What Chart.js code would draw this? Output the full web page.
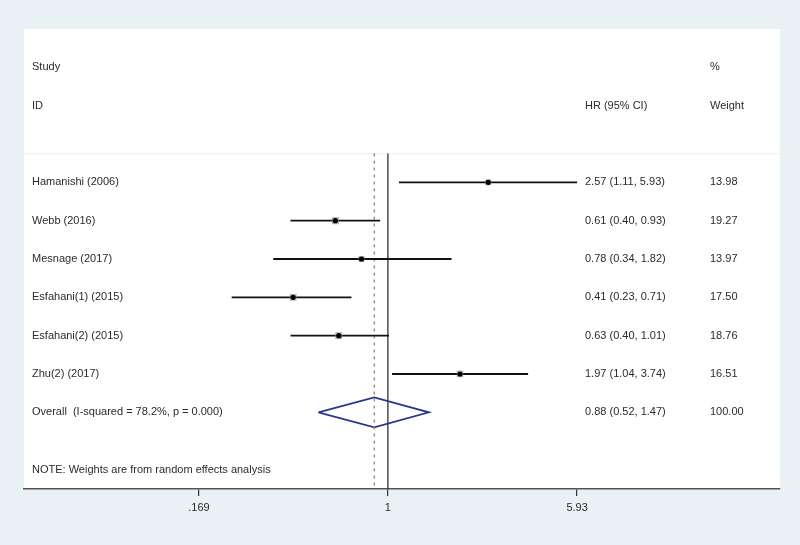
<!DOCTYPE html>
<html>
<head>
<meta charset="utf-8">
<script src="https://cdn.jsdelivr.net/npm/chart.js@4"></script>
<style>
  body { margin: 0; background: #eaf1f4; }
  canvas { display: block; }
</style>
</head>
<body>
<canvas id="myChart" width="800" height="545"></canvas>
<script>
const studies = [
  'Hamanishi (2006)',
  'Webb (2016)',
  'Mesnage (2017)',
  'Esfahani(1) (2015)',
  'Esfahani(2) (2015)',
  'Zhu(2) (2017)',
];
const hr = [2.57, 0.61, 0.78, 0.41, 0.63, 1.97];
const ciLow = [1.11, 0.40, 0.34, 0.23, 0.40, 1.04];
const ciHigh = [5.93, 0.93, 1.82, 0.71, 1.01, 3.74];
const weights = [13.98, 19.27, 13.97, 17.50, 18.76, 16.51];

const overallLabel = 'Overall  (I-squared = 78.2%, p = 0.000)';
const overallHr = 0.88;
const overallLow = 0.52;
const overallHigh = 1.47;
const overallWeight = 100.00;

const tickValues = [0.169, 1, 5.93];
const tickLabels = ['.169', '1', '5.93'];

const fmt = v => v.toFixed(2);
const overallRow = studies.length;
const font = '"Liberation Sans", Arial, sans-serif';

// one line per confidence interval
const ciSets = studies.map((s, i) => ({
  type: 'line',
  data: [{x: ciLow[i], y: i}, {x: ciHigh[i], y: i}],
  borderColor: '#111',
  borderWidth: 1.8,
  pointRadius: 0,
}));

const textPlugin = {
  id: 'forestText',
  beforeDraw(chart) {
    const a = chart.chartArea;
    const ctx = chart.ctx;
    ctx.save();
    ctx.fillStyle = '#ffffff';
    ctx.fillRect(a.left, a.top, a.right - a.left, a.bottom - a.top);
    ctx.strokeStyle = '#f0f0f0';
    ctx.lineWidth = 1;
    const yy = chart.scales.y.getPixelForValue(-0.75);
    ctx.beginPath();
    ctx.moveTo(a.left, yy);
    ctx.lineTo(a.right, yy);
    ctx.stroke();
    ctx.restore();
  },
  afterDatasetsDraw(chart) {
    const ctx = chart.ctx;
    const y = chart.scales.y;
    const labelX = 32, hrX = 585, wX = 710;
    ctx.save();
    ctx.font = '11px ' + font;
    ctx.fillStyle = '#2b2b2b';
    ctx.textBaseline = 'middle';
    const put = (t, x, row) => ctx.fillText(t, x, y.getPixelForValue(row));
    put('Study', labelX, -3);
    put('%', wX, -3);
    put('ID', labelX, -2);
    put('HR (95% CI)', hrX, -2);
    put('Weight', wX, -2);
    studies.forEach((s, i) => {
      put(s, labelX, i);
      put(fmt(hr[i]) + ' (' + fmt(ciLow[i]) + ', ' + fmt(ciHigh[i]) + ')', hrX, i);
      put(fmt(weights[i]), wX, i);
    });
    put(overallLabel, labelX, overallRow);
    put(fmt(overallHr) + ' (' + fmt(overallLow) + ', ' + fmt(overallHigh) + ')', hrX, overallRow);
    put(fmt(overallWeight), wX, overallRow);
    put('NOTE: Weights are from random effects analysis', labelX, 7.5);
    ctx.restore();
  }
};

// datasets listed first are drawn on top
const config = {
  type: 'scatter',
  data: {
    datasets: [
      {
        data: studies.map((s, i) => ({x: hr[i], y: i})),
        pointRadius: 2.6,
        backgroundColor: '#000',
        borderWidth: 0,
      },
      {
        // weight boxes
        data: studies.map((s, i) => ({x: hr[i], y: i})),
        pointStyle: 'rect',
        pointRadius: weights.map(w => 1.15 * Math.sqrt(w)),
        backgroundColor: 'rgba(150,150,150,0.7)',
        borderWidth: 0,
      },
      ...ciSets,
      {
        type: 'line',
        data: [{x: overallHr, y: -0.75}, {x: overallHr, y: 8}],
        borderColor: '#b87474',
        borderWidth: 1.3,
        borderDash: [3, 4],
        pointRadius: 0,
      },
      {
        type: 'line',
        data: [
          {x: overallLow, y: overallRow},
          {x: overallHr, y: overallRow - 0.39},
          {x: overallHigh, y: overallRow},
          {x: overallHr, y: overallRow + 0.39},
          {x: overallLow, y: overallRow},
        ],
        borderColor: '#27378a',
        borderWidth: 1.8,
        pointRadius: 0,
        tension: 0,
      },
      {
        type: 'line',
        data: [{x: 1, y: -0.75}, {x: 1, y: 8}],
        borderColor: '#222',
        borderWidth: 1.2,
        pointRadius: 0,
      },
    ]
  },
  options: {
    responsive: false,
    animation: false,
    layout: { padding: { top: 29, left: 24, right: 20, bottom: 0 } },
    plugins: { legend: { display: false }, tooltip: { enabled: false } },
    scales: {
      x: {
        type: 'logarithmic',
        min: 0.0326,
        max: 40,
        afterBuildTicks: scale => {
          scale.ticks = tickValues.map(v => ({value: v}));
        },
        afterFit: scale => { scale.height = 56; },
        ticks: {
          callback: (v, i) => tickLabels[i],
          font: { family: font, size: 11 },
          color: '#2b2b2b',
          padding: 5,
          maxRotation: 0,
          autoSkip: false,
        },
        grid: {
          drawOnChartArea: false,
          drawTicks: true,
          tickLength: 7,
          color: '#333',
          lineWidth: 1.2,
        },
        border: { display: true, color: '#555', width: 1.5 },
      },
      y: {
        type: 'linear',
        min: -4,
        max: 8,
        reverse: true,
        display: false,
      },
    }
  },
  plugins: [textPlugin],
};

const myChart = new Chart(document.getElementById('myChart'), config);
</script>
</body>
</html>
